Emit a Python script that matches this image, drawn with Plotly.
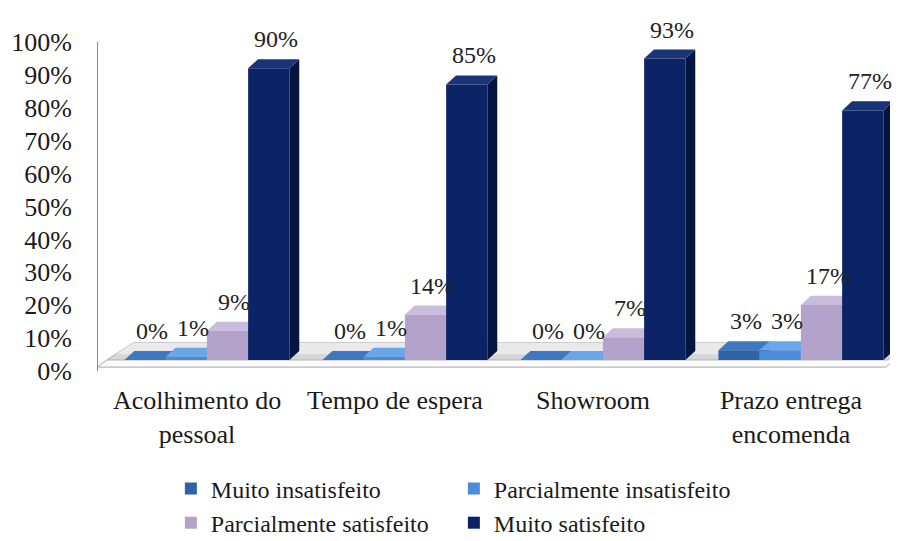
import plotly.graph_objects as go

# Survey data: satisfaction by service aspect (share of respondents)
categories = ["Acolhimento do pessoal", "Tempo de espera", "Showroom", "Prazo entrega encomenda"]
tick_text = ["Acolhimento do<br>pessoal", "Tempo de espera", "Showroom", "Prazo entrega<br>encomenda"]
series_names = ["Muito insatisfeito", "Parcialmente insatisfeito",
                "Parcialmente satisfeito", "Muito satisfeito"]
muito_insatisfeito = [0.00, 0.00, 0.00, 0.03]
parcialmente_insatisfeito = [0.01, 0.01, 0.00, 0.03]
parcialmente_satisfeito = [0.09, 0.14, 0.07, 0.17]
muito_satisfeito = [0.90, 0.85, 0.93, 0.77]
y_ticks = [0, 0.1, 0.2, 0.3, 0.4, 0.5, 0.6, 0.7, 0.8, 0.9, 1.0]

series_values = [muito_insatisfeito, parcialmente_insatisfeito,
                 parcialmente_satisfeito, muito_satisfeito]
front_colors = ["#2F63A6", "#4A8CDB", "#B3A3CA", "#0C2465"]
side_colors = ["#1F4A80", "#336DB5", "#8E7AAA", "#061540"]
top_colors = ["#3F78C0", "#6AA6EA", "#C9BCDD", "#1A3478"]

FONT = "Times New Roman, Liberation Serif, DejaVu Serif, serif"
BARGAP = 0.167
n_series = len(series_values)
bar_w = (1 - BARGAP) / n_series
DX = 0.05   # depth offset along category axis
DY = 0.028  # depth offset along value axis

fig = go.Figure()
# invisible trace on the base axes so the category axis is rendered
fig.add_trace(go.Scatter(x=[0], y=[0], mode="markers", marker=dict(opacity=0),
                         showlegend=False, hoverinfo="skip"))
for i, (name, vals) in enumerate(zip(series_names, series_values)):
    fig.add_trace(go.Bar(
        x=list(range(len(categories))), y=vals, name=name,
        marker=dict(color=front_colors[i], line=dict(width=0)),
        xaxis="x2", yaxis="y2", width=bar_w,
        offset=-0.5 * (1 - BARGAP) + i * bar_w,
        hovertemplate="%{y:.0%}<extra>" + name + "</extra>",
    ))

shapes = []
# floor slab under the bars: thin front edge plus a shaded top surface
shapes.append(dict(type="path", xref="x2", yref="y2", layer="below",
                   path="M -0.555 -0.022 L 3.43 -0.022 L 3.56 0.045 L 3.56 0.052 "
                        "L -0.373 0.052 L -0.505 0 Z",
                   fillcolor="#FAFAFA", line=dict(color="#A8A8A8", width=1)))
shapes.append(dict(type="path", xref="x2", yref="y2", layer="below",
                   path="M -0.505 0 L 3.44 0 L 3.56 0.052 L -0.373 0.052 Z",
                   fillcolor="#D6D6D6", line=dict(color="#B4B4B4", width=1)))
shapes.append(dict(type="path", xref="x2", yref="y2", layer="below",
                   path="M -0.46 0.018 L 3.48 0.018 L 3.56 0.052 L -0.373 0.052 Z",
                   fillcolor="#E9E9E9", line=dict(width=0)))

# depth faces (side and top) for each bar, built from the series values
annotations = []
for i, vals in enumerate(series_values):
    for c, v in enumerate(vals):
        xl = c - 0.5 * (1 - BARGAP) + i * bar_w
        xr = xl + bar_w
        shapes.append(dict(type="path", xref="x2", yref="y2", layer="below",
                           path=f"M {xr} 0 L {xr} {v} L {xr + DX} {v + DY} L {xr + DX} {DY} Z",
                           fillcolor=side_colors[i], line=dict(width=0)))
        shapes.append(dict(type="path", xref="x2", yref="y2", layer="below",
                           path=f"M {xl} {v} L {xr} {v} L {xr + DX} {v + DY} L {xl + DX} {v + DY} Z",
                           fillcolor=top_colors[i], line=dict(width=0)))
        annotations.append(dict(x=(xl + xr) / 2 + DX * 0.7, y=v, xref="x2", yref="y2",
                                text=f"{round(v * 100):.0f}%", showarrow=False,
                                yanchor="bottom", yshift=14,
                                font=dict(family=FONT, size=24, color="#222222")))

fig.update_layout(
    width=910, height=541,
    margin=dict(l=98, r=20, t=42, b=170, autoexpand=False),
    paper_bgcolor="white", plot_bgcolor="rgba(0,0,0,0)",
    barmode="overlay",
    font=dict(family=FONT, size=24, color="#1a1a1a"),
    xaxis=dict(range=[-0.5, 3.5], tickvals=list(range(len(categories))),
               ticktext=tick_text, showgrid=False, zeroline=False, showline=False,
               ticks="", ticklabelstandoff=11, automargin=False,
               tickfont=dict(family=FONT, size=26)),
    xaxis2=dict(range=[-0.55, 3.45], overlaying="x", visible=False),
    yaxis=dict(range=[0, 1], tickvals=y_ticks, tickformat=".0%", showgrid=False,
               zeroline=False, showline=True, linecolor="#8A8A8A", linewidth=1,
               ticks="", ticklabelstandoff=20, automargin=False,
               tickfont=dict(family=FONT, size=26)),
    yaxis2=dict(range=[-0.034, 0.981], overlaying="y", visible=False),
    shapes=shapes,
    annotations=annotations,
    legend=dict(orientation="h", x=0.092, y=-0.29, xanchor="left", yanchor="top",
                entrywidth=238, entrywidthmode="pixels",
                font=dict(family=FONT, size=24), itemwidth=30,
                traceorder="normal"),
    showlegend=True,
)

fig.write_html("out.html")
